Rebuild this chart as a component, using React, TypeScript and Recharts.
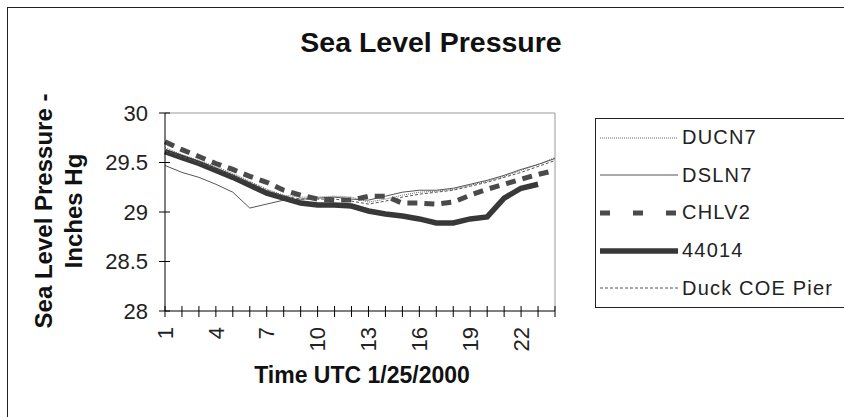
import { LineChart, Line, XAxis, YAxis, ReferenceLine } from 'recharts';

const hours = [1, 2, 3, 4, 5, 6, 7, 8, 9, 10, 11, 12, 13, 14, 15, 16, 17, 18, 19, 20, 21, 22, 23, 24];
const ducn7 = [29.65, 29.58, 29.52, 29.46, 29.39, 29.31, 29.23, 29.17, 29.15, 29.15, 29.16, 29.15, 29.10, 29.13, 29.17, 29.2, 29.21, 29.23, 29.27, 29.31, 29.36, 29.42, 29.48, 29.55];
const dsln7 = [29.47, 29.4, 29.35, 29.28, 29.2, 29.04, 29.08, 29.12, 29.13, 29.14, 29.15, 29.13, 29.12, 29.16, 29.2, 29.22, 29.22, 29.24, 29.28, 29.32, 29.37, 29.43, 29.48, 29.54];
const chlv2 = [29.71, 29.63, 29.56, 29.49, 29.43, 29.36, 29.3, 29.22, 29.17, 29.13, 29.12, 29.12, 29.16, 29.16, 29.09, 29.09, 29.08, 29.1, 29.17, 29.23, 29.28, 29.33, 29.38, 29.42];
const buoy44014 = [29.61, 29.55, 29.49, 29.42, 29.35, 29.27, 29.19, 29.14, 29.09, 29.07, 29.07, 29.06, 29.01, 28.98, 28.96, 28.93, 28.89, 28.89, 28.93, 28.95, 29.14, 29.24, 29.28];
const duckPier = [29.62, 29.56, 29.5, 29.44, 29.37, 29.3, 29.22, 29.16, 29.13, 29.13, 29.13, 29.11, 29.08, 29.11, 29.15, 29.18, 29.2, 29.22, 29.26, 29.3, 29.35, 29.4, 29.46, 29.52];
const yTicks = [28, 28.5, 29, 29.5, 30];

const data = hours.map((h, i) => ({
  hour: h,
  DUCN7: ducn7[i],
  DSLN7: dsln7[i],
  CHLV2: chlv2[i],
  '44014': buoy44014[i] ?? null,
  'Duck COE Pier': duckPier[i],
}));

const series = [
  { key: 'DUCN7', color: '#666', width: 1, dash: '1 1', legendDash: '1 1' },
  { key: 'DSLN7', color: '#555', width: 1, dash: undefined, legendDash: undefined },
  { key: 'CHLV2', color: '#4a4a4a', width: 5, dash: '10 7', legendDash: '10 23' },
  { key: '44014', color: '#383838', width: 5.5, dash: undefined, legendDash: undefined },
  { key: 'Duck COE Pier', color: '#555', width: 1, dash: '3 2', legendDash: '3 2' },
];

const font = '"Liberation Sans", Arial, sans-serif';

const YTick = (props: any) => {
  const { x, y, payload } = props;
  return (
    <g>
      <line x1={x - 6} x2={x + 5} y1={y} y2={y} stroke="#000" />
      <text x={x - 17} y={y} dy="0.35em" textAnchor="end" fontSize={22} fill="#222" fontFamily={font}>
        {payload.value}
      </text>
    </g>
  );
};

const XTick = (props: any) => {
  const { x, y, payload } = props;
  const show = (payload.value - 1) % 3 === 0;
  return (
    <g>
      <line x1={x} x2={x} y1={y - 5} y2={y + 6} stroke="#000" />
      {show && (
        <text
          x={x}
          y={y + 16}
          dy="0.35em"
          textAnchor="end"
          fontSize={22}
          fill="#222"
          fontFamily={font}
          transform={`rotate(-90, ${x}, ${y + 16})`}
        >
          {payload.value}
        </text>
      )}
    </g>
  );
};

function LegendBox() {
  return (
    <div style={{ position: 'absolute', left: 595, top: 118, border: '1px solid #222', width: 300, height: 190, background: '#fff', boxSizing: 'border-box' }}>
      {series.map((s) => (
        <div key={s.key} style={{ display: 'flex', alignItems: 'center', height: 37.6 }}>
          <svg width={82} height={10} style={{ marginLeft: 4 }}>
            <line x1={0} x2={78} y1={5} y2={5} stroke={s.color} strokeWidth={s.width} strokeDasharray={s.legendDash} />
          </svg>
          <span style={{ fontFamily: font, fontSize: 20, color: '#222', letterSpacing: 1.2 }}>{s.key}</span>
        </div>
      ))}
    </div>
  );
}

export default function App() {
  return (
    <div style={{ position: 'fixed', left: 0, top: 0, width: 844, height: 417, overflow: 'hidden', background: '#fff' }}>
      <div style={{ position: 'absolute', left: 7, top: 7, width: 900, height: 500, border: '1px solid #222' }} />
      <div style={{ position: 'absolute', left: 0, top: 0 }}>
        <LineChart width={844} height={417} data={data} margin={{ top: 113, right: 289, bottom: 66, left: 105 }}>
          <ReferenceLine y={30} stroke="#999" />
          <ReferenceLine x={24} stroke="#999" />
          <XAxis
            dataKey="hour"
            interval={0}
            height={40}
            axisLine={{ stroke: '#000' }}
            tickLine={false}
            tickSize={0}
            tickMargin={0}
            tick={<XTick />}
          />
          <YAxis
            domain={[28, 30]}
            ticks={yTicks}
            width={60}
            axisLine={{ stroke: '#000' }}
            tickLine={false}
            tickSize={0}
            tickMargin={0}
            tick={<YTick />}
          />
          {series.map((s) => (
            <Line
              key={s.key}
              type="linear"
              dataKey={s.key}
              stroke={s.color}
              strokeWidth={s.width}
              strokeDasharray={s.dash}
              dot={false}
              isAnimationActive={false}
            />
          ))}
        </LineChart>
      </div>
      <LegendBox />
      <svg width={844} height={417} style={{ position: 'absolute', left: 0, top: 0, pointerEvents: 'none' }}>
        <text x={431} y={52} textAnchor="middle" fontSize={28.5} fontWeight="bold" fontFamily={font} fill="#111">
          Sea Level Pressure
        </text>
        <text x={44} y={211} dy="0.35em" textAnchor="middle" fontSize={24} fontWeight="bold" fontFamily={font} fill="#111" transform="rotate(-90, 44, 211)">
          Sea Level Pressure -
        </text>
        <text x={74} y={211} dy="0.35em" textAnchor="middle" fontSize={24} fontWeight="bold" fontFamily={font} fill="#111" transform="rotate(-90, 74, 211)">
          Inches Hg
        </text>
        <text x={362} y={383} textAnchor="middle" fontSize={23} fontWeight="bold" fontFamily={font} fill="#111">
          Time UTC 1/25/2000
        </text>
      </svg>
    </div>
  );
}
